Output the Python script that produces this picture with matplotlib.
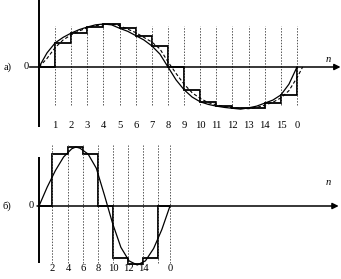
import numpy as np
import matplotlib
matplotlib.use("Agg")
import matplotlib.pyplot as plt

# ---------------- data ----------------
# panel а): continuous signal sampled every 0.5 n
a_curve_n = [0, 0.5, 1, 1.5, 2, 2.5, 3, 3.5, 4, 4.5, 5, 5.5, 6, 6.5, 7, 7.5, 8,
             8.5, 9, 9.5, 10, 10.5, 11, 11.5, 12, 12.5, 13, 13.5, 14, 14.5, 15, 15.5, 16]
a_curve_v = [0, 0.33, 0.56, 0.69, 0.79, 0.87, 0.93, 0.98, 1.0, 0.98, 0.90, 0.83, 0.73, 0.63, 0.49, 0.30, 0,
             -0.30, -0.53, -0.70, -0.81, -0.87, -0.91, -0.94, -0.96, -0.98, -0.95, -0.91, -0.84, -0.77, -0.65, -0.40, 0]
# delayed (dashed) curve
a_dash_n = [0, 0.5, 1, 1.5, 2, 2.5, 3, 3.5, 4, 4.5, 5, 5.5, 6, 6.5, 7, 7.5, 8,
            8.5, 9, 9.5, 10, 10.5, 11, 11.5, 12, 12.5, 13, 13.5, 14, 14.5, 15, 15.5, 16, 16.35]
a_dash_v = [0, 0.20, 0.45, 0.63, 0.75, 0.84, 0.91, 0.96, 0.99, 1.0, 0.96, 0.88, 0.80, 0.69, 0.58, 0.42, 0.12,
            -0.15, -0.40, -0.60, -0.73, -0.83, -0.88, -0.92, -0.95, -0.96, -0.97, -0.94, -0.89, -0.82, -0.72, -0.55, -0.25, 0]
# sample-and-hold levels on [k, k+1]
a_steps = [0, 0.56, 0.79, 0.93, 1.0, 0.90, 0.73, 0.49, 0, -0.53, -0.81, -0.91, -0.96, -0.95, -0.84, -0.65]
a_ticks = list(range(1, 17))
a_tick_labels = ["1", "2", "3", "4", "5", "6", "7", "8", "9", "10", "11", "12", "13", "14", "15", "0"]

# panel б)
b_curve_n = [0, 1, 2, 3, 4, 4.5, 5, 6, 7, 8, 9, 10, 11, 12, 13, 14, 15, 16]
b_curve_v = [0, 0.32, 0.60, 0.83, 0.97, 1.0, 0.98, 0.88, 0.64, 0.18, -0.30, -0.70, -0.93, -1.0, -0.93, -0.72, -0.40, 0]
b_edges = [0, 1.59, 3.54, 5.37, 7.21, 9.04, 10.87, 12.70, 14.53, 16]
b_steps = [0, 0.88, 1.0, 0.88, 0, -0.88, -0.98, -0.88, 0]
b_ticks = [1.59, 3.54, 5.37, 7.21, 9.04, 10.87, 12.70, 14.53, 16]
b_tick_labels = ["2", "4", "6", "8", "10", "12", "14", "", "0"]

# ---------------- figure ----------------
plt.rcParams['font.family'] = ['Liberation Serif', 'DejaVu Serif']
W, H = 341, 279
fig = plt.figure(figsize=(W / 100, H / 100), dpi=100)
fig.patch.set_facecolor('white')

ax_a = fig.add_axes([0, 0, 1, 1])
ax_b = fig.add_axes([0, 0, 1, 1])
for ax in (ax_a, ax_b):
    ax.set_axis_off()
    ax.patch.set_alpha(0)

# panel а) scale: origin px (39,67), 16.125 px per n, 43 px per unit
ax_a.set_xlim(-39 / 16.125, (W - 39) / 16.125)
ax_a.set_ylim(-(H - 67) / 43, 67 / 43)
# panel б) scale: origin px (39,206), 8.1875 px per n, 59 px per unit
ax_b.set_xlim(-39 / 8.1875, (W - 39) / 8.1875)
ax_b.set_ylim(-(H - 206) / 59, 206 / 59)

grid_kw = dict(color='#555555', lw=0.7, ls=(0, (1.5, 1.5)))
FS = 7.6
txt_kw = dict(fontsize=FS, ha='center', va='center', color='black')
arrow_kw = dict(arrowstyle='-|>', lw=1.1, color='black', mutation_scale=9,
                shrinkA=0, shrinkB=0)

# ---- panel а ----
ax_a.vlines(a_ticks, -0.88, 0.95, **grid_kw)
ax_a.plot([0, 0], [-1.40, 67 / 43], color='black', lw=1.4, solid_capstyle='butt')
ax_a.annotate('', xy=(18.7, 0), xytext=(-0.58, 0), arrowprops=arrow_kw,
              annotation_clip=False)
ax_a.plot(a_curve_n, a_curve_v, color='black', lw=0.9)
ax_a.plot(a_dash_n, a_dash_v, color='black', lw=0.8, ls=(0, (3, 2)))
a_edges = list(range(0, 17))
ax_a.stairs(a_steps, a_edges, color='black', lw=1.3, baseline=0)
for t, lab in zip(a_ticks, a_tick_labels):
    ax_a.text(t, -1.35, lab, **txt_kw)
ax_a.text(-0.62, 0, '0', fontsize=FS, ha='right', va='center')
ax_a.text(-1.95, 0, 'а)', fontsize=FS, ha='center', va='center')
ax_a.text(17.92, 0.17, 'n', fontsize=FS, ha='center', va='center', style='italic')

# ---- panel б ----
ax_b.vlines(b_ticks, -0.97, 1.03, **grid_kw)
ax_b.plot([0, 0], [-(263 - 206) / 59, (206 - 157) / 59], color='black', lw=1.4,
          solid_capstyle='butt')
ax_b.annotate('', xy=(36.6, 0), xytext=(-0.24, 0), arrowprops=arrow_kw,
              annotation_clip=False)
ax_b.plot(b_curve_n, b_curve_v, color='black', lw=0.9)
ax_b.stairs(b_steps, b_edges, color='black', lw=1.3, baseline=0)
for t, lab in zip(b_ticks, b_tick_labels):
    ax_b.text(t, -1.055, lab, **txt_kw)
ax_b.text(-0.67, 0, '0', fontsize=FS, ha='right', va='center')
ax_b.text(-3.9, 0, 'б)', fontsize=FS, ha='center', va='center')
ax_b.text(35.3, 0.39, 'n', fontsize=FS, ha='center', va='center', style='italic')

fig.savefig('out.png', dpi=100, facecolor='white')
